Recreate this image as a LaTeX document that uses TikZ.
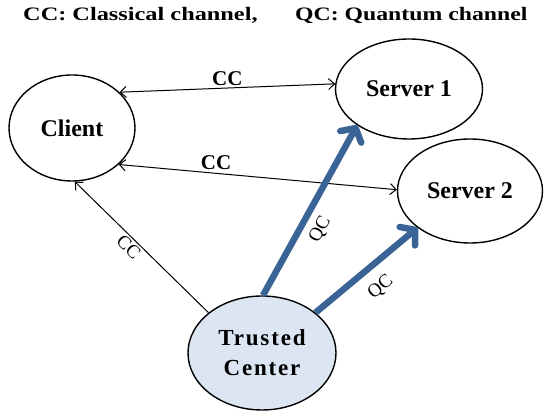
\documentclass[tikz,border=0pt]{standalone}
\usepackage{fontspec}
\usepackage{graphicx}
\setmainfont{Liberation Serif}
\newfontfamily\tcfont[LetterSpace=8]{Liberation Serif Bold}
\usetikzlibrary{arrows.meta,shapes.geometric}
\definecolor{qcblue}{HTML}{3A6496}
\definecolor{tcfill}{HTML}{DCE6F2}
\begin{document}
\begin{tikzpicture}[x=1pt,y=-1pt,
  party/.style={ellipse,draw,line width=1.4pt,inner sep=0pt,
    font=\fontsize{24}{28}\selectfont\bfseries},
  cc/.style={line width=1pt,{Straight Barb[length=6pt,width=11pt]}-{Straight Barb[length=6pt,width=11pt]}},
  ccone/.style={line width=1pt,-{Straight Barb[length=6pt,width=11pt]}},
  qc/.style={line width=6.5pt,qcblue,-{Straight Barb[length=10pt,width=24pt,round]}},
  cclab/.style={font=\fontsize{21}{24}\selectfont\bfseries,inner sep=2pt},
  rotlab/.style={font=\fontsize{19}{22}\selectfont,sloped,below},
  title/.style={font=\fontsize{19}{22}\selectfont\bfseries,anchor=base west,inner sep=0pt}]
\useasboundingbox (0,0) rectangle (544,411);

\node[title] (t1) at (23,21) {\scalebox{1.28}[1]{CC: Classical channel,}};
\node[title] (t2) at (295,21) {\scalebox{1.25}[1]{QC: Quantum channel}};

\node[party,minimum width=126pt,minimum height=106pt] (client) at (72,128) {Client};
\node[party,minimum width=147pt,minimum height=100pt] (server1) at (409,89) {Server 1};
\node[party,minimum width=145pt,minimum height=104pt] (server2) at (470,191) {Server 2};
\node[party,fill=tcfill,minimum width=148pt,minimum height=114pt,
  align=center,font=\tcfont\fontsize{23}{30}\selectfont] (tc) at (262,353) {Trusted\\Center};

\draw[cc] (client.37) -- (server1.176) node[cclab,midway,above] {CC};
\draw[cc] (client.-38) -- (server2.179) node[cclab,pos=0.35,above,inner sep=3pt] {CC};
\draw[ccone] (tc.143) -- (client.-87) node[rotlab,pos=0.55,inner sep=2pt] {CC};
\draw[qc] (tc.89) -- (server1.215) node[rotlab,pos=0.44,inner sep=7pt,text=black] {QC};
\draw[qc] (tc.37) -- (server2.215) node[rotlab,pos=0.5,inner sep=11pt,text=black] {QC};
\end{tikzpicture}
\end{document}
